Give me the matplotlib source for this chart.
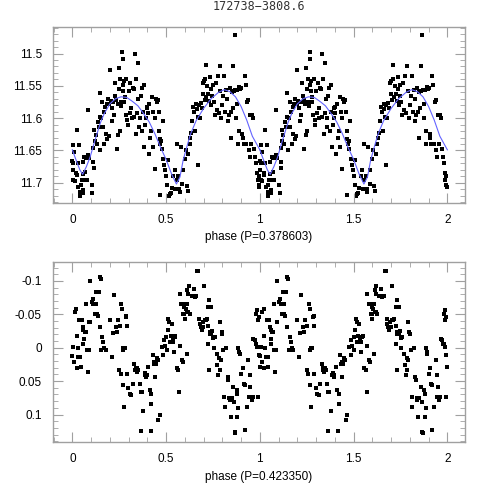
import numpy as np
import matplotlib
matplotlib.use('Agg')
import matplotlib.pyplot as plt
from matplotlib.ticker import MultipleLocator

plt.rcParams['font.family'] = ['Liberation Sans', 'DejaVu Sans']

title = '172738\u22123808.6'
xlabel_top = 'phase (P=0.378603)'
xlabel_bot = 'phase (P=0.423350)'

# top panel, phase 0-1 (repeated for 1-2)
top_phase = [
    0.005, 0.000, 0.005, 0.010, 0.003, 0.005, 0.014, 0.020, 0.023, 0.027, 0.028, 0.032, 0.037, 0.041, 0.041, 0.046, 0.050,
    0.055, 0.056, 0.059, 0.059, 0.062, 0.064, 0.068, 0.071, 0.076, 0.082, 0.085, 0.085, 0.091, 0.103, 0.106, 0.112, 0.115, 0.117, 0.112,
    0.120, 0.125, 0.130, 0.135, 0.140, 0.145, 0.147, 0.150, 0.155, 0.160, 0.163, 0.168, 0.170, 0.175, 0.178, 0.183, 0.185, 0.190, 0.195, 0.198, 0.200, 0.205, 0.210, 0.213,
    0.218, 0.222, 0.227, 0.230, 0.235, 0.238, 0.242, 0.245, 0.248, 0.250, 0.252, 0.255, 0.258, 0.262, 0.265, 0.268, 0.270, 0.272, 0.275, 0.278, 0.280, 0.285, 0.288, 0.292, 0.295, 0.300,
    0.305, 0.310, 0.315, 0.318, 0.322, 0.327, 0.330, 0.334, 0.338, 0.342, 0.347, 0.350, 0.352, 0.357, 0.360, 0.365, 0.370, 0.373, 0.377, 0.380, 0.383, 0.390, 0.393, 0.397, 0.400,
    0.403, 0.407, 0.410, 0.415, 0.420, 0.425, 0.428, 0.432, 0.440, 0.440, 0.445, 0.450, 0.455, 0.460, 0.463, 0.467, 0.470, 0.475, 0.478, 0.482, 0.485, 0.490, 0.495,
    0.467, 0.500, 0.505, 0.510, 0.515, 0.520, 0.525, 0.530, 0.538, 0.545, 0.550, 0.556, 0.558, 0.565, 0.570, 0.574, 0.578, 0.585, 0.590, 0.600, 0.605, 0.610, 0.615,
    0.617, 0.625, 0.630, 0.635, 0.640, 0.645, 0.650, 0.655, 0.660, 0.663, 0.668, 0.672, 0.675, 0.680, 0.685, 0.690, 0.695, 0.698, 0.700, 0.705, 0.710, 0.712, 0.715,
    0.720, 0.725, 0.730, 0.735, 0.738, 0.740, 0.745, 0.750, 0.755, 0.760, 0.765, 0.770, 0.775, 0.780, 0.785, 0.790, 0.795, 0.800, 0.805, 0.810, 0.815, 0.820,
    0.825, 0.830, 0.835, 0.840, 0.845, 0.848, 0.850, 0.855, 0.858, 0.862, 0.867, 0.870, 0.873, 0.878, 0.880, 0.885, 0.888, 0.890, 0.895, 0.900,
    0.905, 0.910, 0.915, 0.920, 0.925, 0.928, 0.932, 0.938, 0.940, 0.945, 0.950, 0.955, 0.960, 0.965, 0.970, 0.975, 0.980, 0.985, 0.990, 0.993, 0.995, 0.998,
]
top_mag = [
    11.641, 11.667, 11.670, 11.653, 11.680, 11.695, 11.697, 11.685, 11.688, 11.618, 11.670, 11.706, 11.642, 11.714, 11.720, 11.703, 11.696,
    11.687, 11.668, 11.711, 11.716, 11.696, 11.660, 11.683, 11.662, 11.696, 11.660, 11.587, 11.657, 11.661, 11.703, 11.716, 11.668, 11.677, 11.619, 11.647,
    11.635, 11.626, 11.640, 11.606, 11.614, 11.598, 11.561, 11.650, 11.600, 11.575, 11.613, 11.590, 11.640, 11.583, 11.625, 11.578, 11.632, 11.571, 11.628, 11.578, 11.525, 11.573, 11.585, 11.605,
    11.575, 11.595, 11.545, 11.565, 11.572, 11.648, 11.578, 11.626, 11.523, 11.555, 11.620, 11.540, 11.575, 11.582, 11.497, 11.508, 11.549, 11.558, 11.543, 11.575, 11.567, 11.595, 11.540, 11.603, 11.610, 11.558,
    11.592, 11.545, 11.585, 11.600, 11.554, 11.555, 11.598, 11.500, 11.540, 11.625, 11.592, 11.515, 11.570, 11.614, 11.600, 11.566, 11.553, 11.620, 11.590, 11.548, 11.645, 11.610, 11.600, 11.585, 11.583,
    11.592, 11.655, 11.578, 11.630, 11.620, 11.567, 11.645, 11.590, 11.678, 11.600, 11.570, 11.575, 11.572, 11.590, 11.620, 11.632, 11.640, 11.635, 11.648, 11.605, 11.663, 11.672, 11.680,
    11.719, 11.690, 11.703, 11.665, 11.720, 11.718, 11.716, 11.708, 11.690, 11.680, 11.710, 11.695, 11.640, 11.690, 11.710, 11.715, 11.645, 11.702, 11.680, 11.663, 11.650, 11.705, 11.712,
    11.655, 11.640, 11.630, 11.623, 11.605, 11.583, 11.590, 11.620, 11.578, 11.586, 11.598, 11.672, 11.580, 11.600, 11.577, 11.585, 11.545, 11.563, 11.542, 11.572, 11.540, 11.518, 11.568,
    11.550, 11.563, 11.573, 11.537, 11.555, 11.580, 11.565, 11.548, 11.575, 11.595, 11.545, 11.587, 11.535, 11.592, 11.520, 11.558, 11.600, 11.580, 11.565, 11.535, 11.590, 11.557,
    11.570, 11.605, 11.595, 11.553, 11.590, 11.630, 11.560, 11.585, 11.520, 11.558, 11.472, 11.556, 11.600, 11.578, 11.557, 11.640, 11.620, 11.552, 11.555, 11.553,
    11.625, 11.630, 11.640, 11.535, 11.548, 11.640, 11.575, 11.572, 11.650, 11.660, 11.595, 11.640, 11.595, 11.600, 11.648, 11.660, 11.670, 11.685, 11.695, 11.690, 11.703, 11.706,
]

# fitted curve, phase 0-1
fit_phase = [0.00, 0.02, 0.04, 0.055, 0.075, 0.095, 0.12, 0.15, 0.17, 0.20, 0.23, 0.26, 0.29, 0.32, 0.35, 0.38, 0.41, 0.44,
             0.47, 0.50, 0.53, 0.555, 0.574, 0.591, 0.61, 0.63, 0.66, 0.70, 0.74, 0.78, 0.81, 0.84, 0.87, 0.90, 0.93, 0.96, 1.00]
fit_mag = [11.649, 11.665, 11.680, 11.687, 11.675, 11.660, 11.635, 11.607, 11.593, 11.578, 11.570, 11.567, 11.568, 11.574, 11.581, 11.593, 11.606, 11.624,
           11.645, 11.664, 11.687, 11.702, 11.691, 11.665, 11.645, 11.625, 11.604, 11.585, 11.570, 11.560, 11.556, 11.559, 11.567, 11.582, 11.603, 11.628, 11.649]

# bottom panel, phase 0-1 (repeated for 1-2)
bot_phase = [
    0.000, 0.005, 0.010, 0.014, 0.020, 0.023, 0.023, 0.028, 0.032, 0.037, 0.041, 0.046, 0.050, 0.055, 0.059, 0.059, 0.062, 0.066, 0.071, 0.073, 0.076, 0.082, 0.087, 0.091, 0.094, 0.094,
    0.103, 0.108, 0.112, 0.120, 0.125, 0.128, 0.130, 0.135, 0.140, 0.147, 0.152, 0.147, 0.155, 0.160, 0.165, 0.170, 0.178,
    0.200, 0.210, 0.215, 0.222, 0.232, 0.236, 0.242, 0.250, 0.254, 0.258, 0.262, 0.265, 0.268, 0.270, 0.272, 0.275, 0.280, 0.285, 0.288, 0.290, 0.290,
    0.297, 0.307, 0.315, 0.322, 0.330, 0.335, 0.337, 0.343, 0.346, 0.352, 0.360, 0.365, 0.370, 0.377, 0.385, 0.390, 0.394, 0.398, 0.405, 0.414, 0.422, 0.422,
    0.430, 0.435, 0.438, 0.446, 0.450, 0.455, 0.467, 0.458, 0.417, 0.366, 0.440,
    0.476, 0.485, 0.488, 0.494, 0.500, 0.503, 0.508, 0.512, 0.517, 0.520, 0.525, 0.530, 0.535, 0.538, 0.542, 0.547, 0.550, 0.556, 0.565, 0.570, 0.574,
    0.583, 0.588, 0.591, 0.596, 0.600, 0.609, 0.613, 0.618,
    0.574, 0.582, 0.591, 0.597, 0.606, 0.610, 0.614, 0.618, 0.622, 0.627, 0.636, 0.645, 0.648, 0.654, 0.660, 0.666, 0.672, 0.677, 0.680, 0.684, 0.690,
    0.695, 0.698, 0.703, 0.707, 0.712, 0.716, 0.725, 0.730, 0.725, 0.734, 0.740,
    0.725, 0.730, 0.734, 0.742, 0.747, 0.751, 0.755, 0.760, 0.769, 0.773, 0.778, 0.783, 0.787, 0.790, 0.792, 0.796, 0.800, 0.805, 0.810, 0.813, 0.822,
    0.828, 0.831, 0.837, 0.840, 0.845, 0.849, 0.858, 0.863, 0.867, 0.870, 0.876, 0.879, 0.880, 0.886, 0.884, 0.890, 0.893, 0.902, 0.908, 0.915, 0.920,
    0.920, 0.929, 0.938, 0.943, 0.947, 0.950, 0.956, 0.961, 0.964, 0.973, 0.978, 0.982, 0.985, 0.991, 0.995, 1.000, 0.980, 0.985, 0.990, 0.995,
]
bot_val = [
    0.012, -0.001, 0.021, -0.053, -0.058, -0.018, 0.031, 0.001, 0.014, -0.041, 0.014, 0.029, -0.041, -0.031, -0.026, -0.006, -0.013, -0.023, -0.023, -0.066, 0.004, 0.036, 0.004, -0.038, -0.100, -0.038,
    -0.068, -0.073, -0.066, -0.051, -0.083, -0.066, -0.051, -0.048, -0.083, -0.106, -0.103, -0.031, 0.004, -0.016, -0.008, 0.001, 0.004,
    -0.041, 0.014, -0.022, -0.079, -0.031, -0.023, -0.041, 0.034, -0.033, 0.039, -0.065, -0.058, 0.056, 0.004, 0.001, 0.089, 0.001, -0.046, -0.048, -0.033, 0.040,
    0.060, 0.069, 0.071, 0.054, 0.024, 0.034, 0.030, 0.036, 0.031, 0.034, 0.054, 0.066, 0.066, 0.094, 0.041, 0.038, 0.044, 0.041, 0.029, 0.064, 0.069, 0.084,
    0.011, 0.024, 0.021, 0.024, 0.016, 0.019, 0.101, 0.108, 0.124, 0.124, 0.044,
    -0.001, 0.011, -0.011, -0.003, -0.016, 0.004, -0.026, -0.043, -0.038, -0.008, -0.018, -0.035, -0.011, -0.008, 0.006, -0.016, -0.018, 0.031, 0.034, 0.066, -0.003,
    0.019, 0.021, -0.051, -0.051, -0.043, 0.009, -0.053, -0.053,
    -0.080, -0.066, -0.066, -0.061, -0.058, -0.066, -0.086, -0.081, -0.093, -0.050, -0.078, -0.078, -0.088, -0.076, -0.078, -0.115, -0.115, -0.043, -0.036, -0.031, -0.026,
    -0.038, -0.031, -0.092, -0.041, -0.041, -0.043, -0.061, -0.071, -0.033, -0.023, -0.061,
    -0.006, 0.034, -0.021, -0.020, -0.025, -0.015, 0.000, -0.016, 0.009, 0.026, 0.041, 0.016, 0.034, -0.038, 0.019, -0.023, -0.021, 0.004, 0.074, 0.089, 0.001,
    0.044, 0.049, 0.076, 0.079, 0.104, 0.076, 0.059, 0.081, 0.126, 0.128, 0.064, 0.069, 0.104, 0.091, 0.001, 0.006, 0.010, 0.039, 0.031, 0.054, 0.056,
    0.123, 0.089, 0.019, 0.074, 0.041, 0.059, 0.079, 0.074, -0.013, -0.011, -0.006, -0.006, -0.001, 0.074, 0.011, 0.029, -0.051, -0.056, -0.041, -0.046,
]

def two_cycles(ph, vals):
    ph = np.asarray(ph)
    return np.concatenate([ph, ph + 1]), np.concatenate([vals, vals])

frame = '#a0a0a0'

def style(ax, ymaj, ymin):
    ax.set_xlim(-0.103, 2.094)
    ax.xaxis.set_major_locator(MultipleLocator(0.5))
    ax.xaxis.set_minor_locator(MultipleLocator(0.1))
    ax.yaxis.set_major_locator(MultipleLocator(ymaj))
    ax.yaxis.set_minor_locator(MultipleLocator(ymin))
    ax.tick_params(which='both', direction='in', top=True, right=True, color=frame, labelsize=8.5)
    ax.tick_params(axis='x', pad=8)
    ax.tick_params(axis='y', pad=8)
    ax.tick_params(which='major', length=7)
    ax.tick_params(which='minor', length=3.5)
    ax.xaxis.set_major_formatter(plt.FuncFormatter(lambda v, p: '%g' % v))
    ax.yaxis.set_major_formatter(plt.FuncFormatter(lambda v, p: '%g' % (round(v, 3) + 0)))
    for s in ax.spines.values():
        s.set_color(frame)
        s.set_linewidth(1.0)

fig = plt.figure(figsize=(4.91, 4.91), dpi=100)
ax1 = fig.add_axes([0.108, 0.587, 0.839, 0.358])
ax2 = fig.add_axes([0.108, 0.100, 0.839, 0.366])

x, y = two_cycles(top_phase, top_mag)
ax1.scatter(x, y, s=5, marker='s', color='black', linewidths=0)
n = len(fit_phase)
fx, fy = two_cycles(fit_phase, fit_mag)
ax1.plot(fx[:n], fy[:n], color='#6464ff', lw=0.8)
ax1.plot(fx[n:], fy[n:], color='#6464ff', lw=0.8)
ax1.set_ylim(11.731, 11.459)
style(ax1, 0.05, 0.01)
ax1.set_xlabel(xlabel_top, fontsize=8.5, labelpad=4)
ax1.set_title(title, fontsize=8.5, pad=12, color='#333333', family='DejaVu Sans Mono')

x, y = two_cycles(bot_phase, bot_val)
ax2.scatter(x, y, s=5, marker='s', color='black', linewidths=0)
ax2.set_ylim(0.141, -0.128)
style(ax2, 0.05, 0.01)
ax2.set_xlabel(xlabel_bot, fontsize=8.5, labelpad=4)

fig.savefig('out.png', dpi=100)
